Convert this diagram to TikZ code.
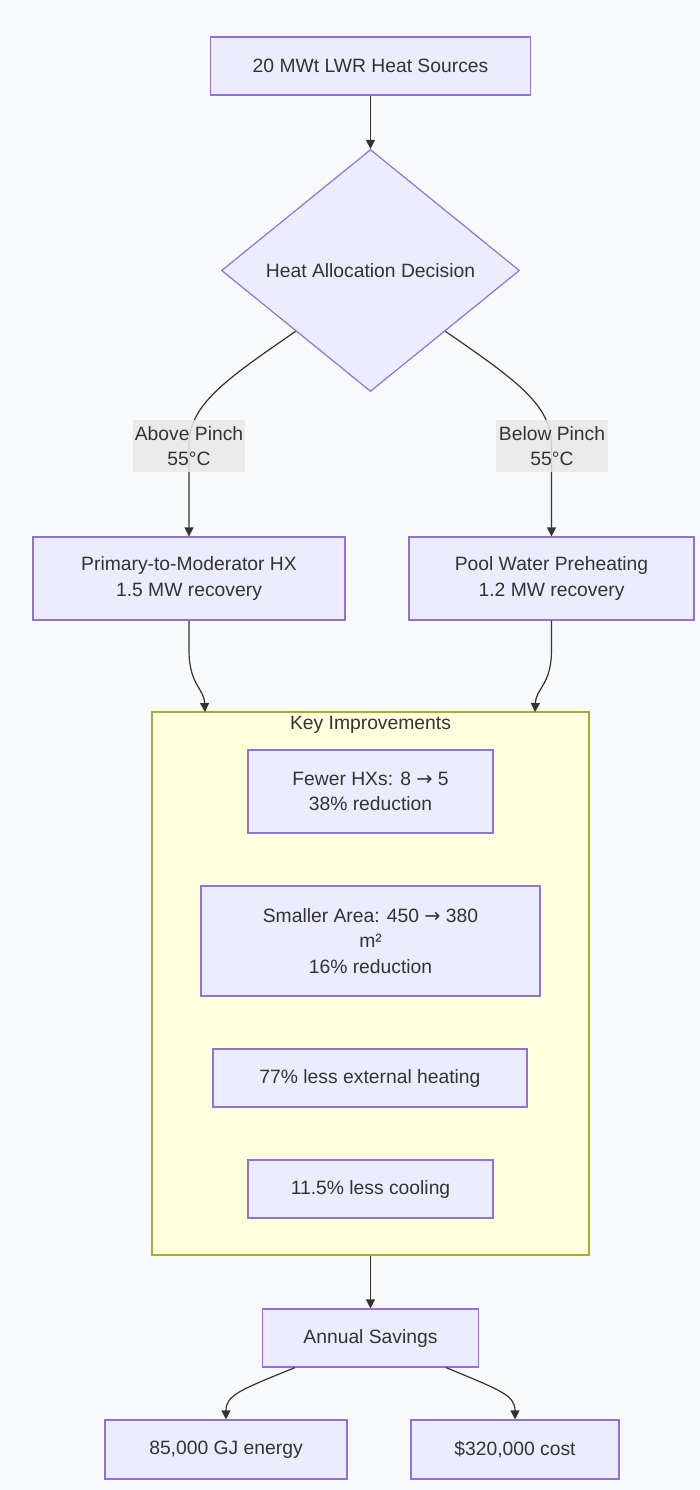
\documentclass[tikz,border=0pt]{standalone}
\usepackage{fontspec}
\setmainfont{Liberation Sans}
\newfontfamily\arrowfont{DejaVu Sans}
\usetikzlibrary{shapes.geometric,arrows.meta}
\definecolor{bgc}{HTML}{F8F9FA}
\definecolor{boxfill}{HTML}{ECECFF}
\definecolor{boxline}{HTML}{9370DB}
\definecolor{grpfill}{HTML}{FFFFDE}
\definecolor{grpline}{HTML}{AAAA33}
\definecolor{lblfill}{HTML}{E8E8E8}
\definecolor{ink}{HTML}{333333}
\newcommand{\ra}{{\arrowfont →}}
\newcommand{\txtsize}{\fontsize{19.3}{25.5}\selectfont}
\tikzset{
  box/.style={draw=boxline, fill=boxfill, line width=1.2pt, text=ink, align=center, inner sep=0pt, font=\txtsize},
  decide/.style={box, diamond, minimum width=298pt, minimum height=242pt, aspect=1.23},
  lbl/.style={fill=lblfill, fill opacity=0.85, text opacity=1, text=ink, align=center, inner sep=0pt, minimum width=112pt, minimum height=52pt, font=\txtsize},
  grp/.style={draw=grpline, fill=grpfill, line width=1.2pt, inner sep=0pt},
  arr/.style={draw=ink, line width=1.2pt, -{Triangle[length=9pt,width=9pt]}},
}
\begin{document}
\begin{tikzpicture}[x=1pt, y=-1pt]
         \useasboundingbox (0,0) rectangle (700,1490);
         \fill[bgc] (0,0) rectangle (700,1490);
         \node[box, minimum width=320pt, minimum height=58pt] (Src) at (370.5,66) {20 MWt LWR Heat Sources};
         \node[decide] (Dec) at (370.5,270.5) {Heat Allocation Decision};
         \node[box, minimum width=312pt, minimum height=83pt] (PHX) at (189,578.5) {Primary-to-Moderator HX\\1.5 MW recovery};
         \node[box, minimum width=285pt, minimum height=83pt] (Pool) at (551.5,578.5) {Pool Water Preheating\\1.2 MW recovery};
         \node[grp, minimum width=437pt, minimum height=543pt] (Key) at (370.5,983.5) {};
         \node[text=ink, font=\txtsize] (KeyT) at (370.5,725) {Key Improvements};
         \node[box, minimum width=245pt, minimum height=83pt] (Few) at (370.5,791.5) {Fewer HXs: 8 \ra\ 5\\38\% reduction};
         \node[box, minimum width=339pt, minimum height=110pt] (Area) at (370.5,941) {Smaller Area: 450 \ra\ 380\\m²\\16\% reduction};
         \node[box, minimum width=314pt, minimum height=58pt] (Ext) at (370,1078) {77\% less external heating};
         \node[box, minimum width=245pt, minimum height=58pt] (Cool) at (370.5,1189) {11.5\% less cooling};
         \node[box, minimum width=216pt, minimum height=58pt] (Ann) at (370.5,1338) {Annual Savings};
         \node[box, minimum width=242pt, minimum height=59pt] (GJ) at (226,1449.5) {85,000 GJ energy};
         \node[box, minimum width=208pt, minimum height=59pt] (Cost) at (515,1449.5) {\$320,000 cost};
         \coordinate (KeyL) at (205,712);
         \coordinate (KeyR) at (535,712);
         \draw[arr] (Src) -- (Dec);
         \draw[arr] (Dec.south west) .. controls (225,380) and (189,405) .. (189,445) -- (PHX);
         \draw[arr] (Dec.south east) .. controls (516,380) and (551.5,405) .. (551.5,445) -- (Pool);
         \draw[arr] (PHX) -- (189,650) .. controls (189,685) and (204,688) .. (KeyL);
         \draw[arr] (Pool) -- (551.5,650) .. controls (551.5,685) and (536,688) .. (KeyR);
         \draw[arr] (Key) -- (Ann);
         \draw[arr] ([xshift=33pt]Ann.south west) .. controls (240,1390) and (226,1395) .. (GJ);
         \draw[arr] ([xshift=-33pt]Ann.south east) .. controls (500,1390) and (515,1395) .. (Cost);
         \node[lbl] (AbP) at (189,446) {Above Pinch\\55°C};
         \node[lbl] (BeP) at (552,446) {Below Pinch\\55°C};
 \end{tikzpicture}
\end{document}
